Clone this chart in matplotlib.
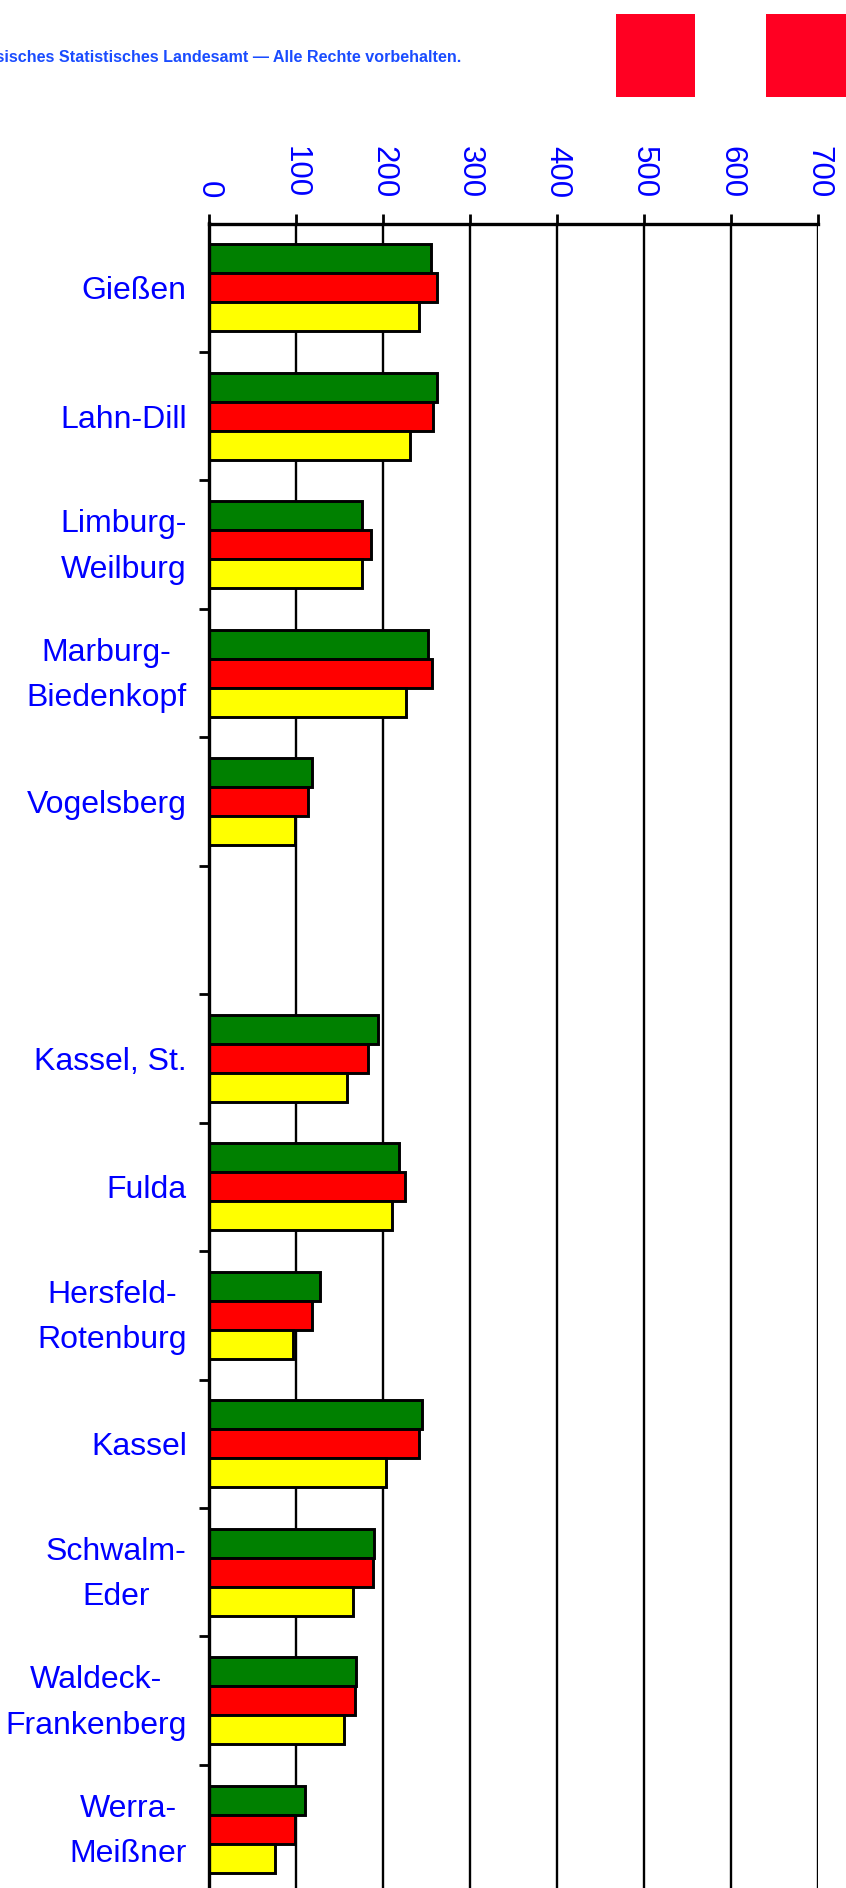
import numpy as np
import matplotlib
matplotlib.use("Agg")
import matplotlib.pyplot as plt
from matplotlib.patches import Rectangle
from matplotlib.transforms import ScaledTranslation

plt.rcParams['font.family'] = ['Liberation Sans', 'DejaVu Sans']

# Kreise (leerer Eintrag = Lücke zwischen den Regierungsbezirken)
kreise = ["Gießen", "Lahn-Dill", "Limburg-\nWeilburg", "Marburg-\nBiedenkopf",
          "Vogelsberg", "", "Kassel, St.", "Fulda", "Hersfeld-\nRotenburg",
          "Kassel", "Schwalm-\nEder", "Waldeck-\nFrankenberg", "Werra-\nMeißner"]

werte_gruen = [255, 262, 176, 252, 118, np.nan, 194, 218, 128, 245, 190, 169, 110]
werte_rot = [262, 258, 186, 256, 114, np.nan, 183, 225, 118, 241, 189, 168, 99]
werte_gelb = [241, 231, 176, 227, 99, np.nan, 159, 210, 97, 203, 165, 155, 76]

x_ticks = [0, 100, 200, 300, 400, 500, 600, 700]

W, H = 846, 1888
fig = plt.figure(figsize=(W / 100, H / 100), dpi=100)

# Kopfzeile mit Copyright und Logo-Blöcken
fig.text(461 / W, 1 - 58 / H, "Hessisches Statistisches Landesamt — Alle Rechte vorbehalten.",
         ha='right', va='center', fontsize=11.6, fontweight='bold', color='#1a4cff')
for x0, x1 in [(616, 695), (766, 846)]:
    fig.patches.append(Rectangle((x0 / W, 1 - 97 / H), (x1 - x0) / W, 83 / H,
                                 transform=fig.transFigure, facecolor='#ff0022',
                                 edgecolor='none'))

top = 223.5
slot = 128.45
bottom = top + len(kreise) * slot
ax = fig.add_axes([209 / W, 1 - bottom / H, (818 - 209) / W, (bottom - top) / H])

pos = np.arange(len(kreise))
bh = 0.226
ax.barh(pos - bh, werte_gruen, height=bh, color='#008000', edgecolor='black', linewidth=2.1)
ax.barh(pos, werte_rot, height=bh, color='#ff0000', edgecolor='black', linewidth=2.1)
ax.barh(pos + bh, werte_gelb, height=bh, color='#ffff00', edgecolor='black', linewidth=2.1)

ax.set_xlim(0, 700)
ax.set_ylim(len(kreise) - 0.5, -0.5)

ax.xaxis.tick_top()
ax.set_xticks(x_ticks)
ax.set_xticklabels([str(t) for t in x_ticks], rotation=270, color='#0000ff', fontsize=22.5)
ax.tick_params(axis='x', direction='out', length=7, width=2, pad=11)

ax.set_yticks(pos)
ax.set_yticklabels(kreise, color='#0000ff', fontsize=23, multialignment='center',
                   linespacing=1.68)
ax.set_yticks(np.arange(len(kreise)) + 0.5, minor=True)
ax.tick_params(axis='y', which='major', length=0, pad=16)
ax.tick_params(axis='y', which='minor', direction='out', length=7, width=2)

# zweizeilige Namen etwas anheben
lift = ScaledTranslation(0, 0.09, fig.dpi_scale_trans)
for lbl in ax.get_yticklabels():
    if "\n" in lbl.get_text():
        lbl.set_transform(lbl.get_transform() + lift)

ax.grid(axis='x', color='black', linewidth=1.7)
ax.set_axisbelow(True)

for side in ['right', 'bottom']:
    ax.spines[side].set_visible(False)
ax.spines['top'].set_linewidth(2.4)
ax.spines['left'].set_linewidth(2.4)

fig.savefig("out.png", dpi=100)
